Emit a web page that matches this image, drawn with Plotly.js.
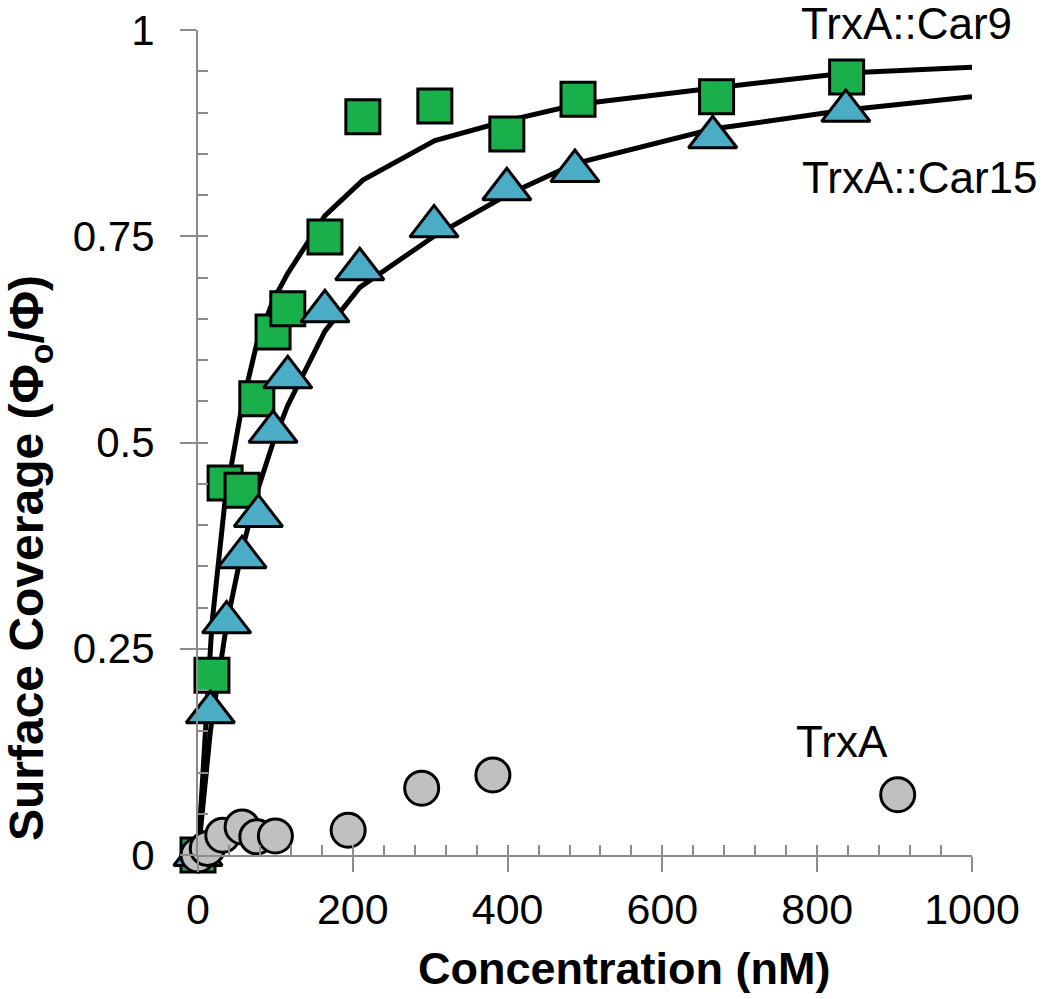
<!DOCTYPE html>
<html>
<head>
<meta charset="utf-8">
<script src="https://cdn.plot.ly/plotly-3.0.1.min.js"></script>
<style>html,body{margin:0;padding:0;background:#fff;}#chart{width:1050px;height:999px;}</style>
</head>
<body>
<div id="chart"></div>
<script>
// Measured data (concentration nM, surface coverage)
const car9X = [0, 18, 35, 57, 76, 97, 116, 164, 213, 306, 399, 491, 670, 838];
const car9Y = [0, 0.218, 0.451, 0.442, 0.553, 0.634, 0.662, 0.749, 0.895, 0.908, 0.874, 0.916, 0.919, 0.943];
const car15X = [0, 16, 37, 57, 78, 97, 116, 164, 209, 305, 399, 487, 665, 837];
const car15Y = [0, 0.173, 0.282, 0.361, 0.411, 0.513, 0.579, 0.659, 0.71, 0.762, 0.807, 0.829, 0.87, 0.902];
const trxX = [0, 12, 32, 57, 76, 100, 194, 289, 381, 904];
const trxY = [0, 0.008, 0.024, 0.034, 0.022, 0.023, 0.030, 0.081, 0.097, 0.073];
// Fit curves
const fit9X = [0, 18, 35, 57, 76, 97, 116, 164, 213, 306, 399, 491, 670, 838, 1000];
const fit9Y = [0, 0.28, 0.43, 0.545, 0.62, 0.672, 0.705, 0.775, 0.818, 0.866, 0.89, 0.91, 0.93, 0.948, 0.955];
const fit15X = [0, 16, 37, 57, 78, 97, 116, 164, 209, 305, 399, 487, 665, 837, 1000];
const fit15Y = [0, 0.15, 0.28, 0.37, 0.445, 0.50, 0.545, 0.635, 0.688, 0.75, 0.80, 0.838, 0.88, 0.903, 0.919];
// Axis ticks
const xTickVals = [0, 200, 400, 600, 800, 1000];
const xTickText = ['0', '200', '400', '600', '800', '1000'];
const yTickVals = [0, 0.25, 0.5, 0.75, 1];
const yTickText = ['0', '0.25', '0.5', '0.75', '1'];
// Labels (positions in paper fractions)
const seriesLabels = ['TrxA::Car9', 'TrxA::Car15', 'TrxA'];
const labelPos = {x: [0.915, 0.933, 0.832], y: [1.008, 0.821, 0.138]};

const FONT = 'Liberation Sans, Arial, sans-serif';
const AX = '#8c8c8c';

const traces = [
  {x: fit9X, y: fit9Y, mode: 'lines', line: {color: '#000', width: 5}, cliponaxis: false, hoverinfo: 'skip'},
  {x: fit15X, y: fit15Y, mode: 'lines', line: {color: '#000', width: 5}, cliponaxis: false, hoverinfo: 'skip'},
  {x: car9X, y: car9Y, mode: 'markers', cliponaxis: false,
   marker: {symbol: 'square', size: 34, color: '#19B04B', line: {color: '#000', width: 3}}},
  {x: car15X, y: car15Y, mode: 'markers', cliponaxis: false,
   marker: {symbol: 'triangle-up', size: 42, color: '#4BACC6', line: {color: '#000', width: 3}}},
  {x: trxX, y: trxY, mode: 'markers', cliponaxis: false,
   marker: {symbol: 'circle', size: 34, color: '#C0C0C0', line: {color: '#000', width: 3}}},
  {x: [null], y: [null], xaxis: 'x2', yaxis: 'y2', mode: 'markers', hoverinfo: 'skip'}
];

const annotations = seriesLabels.map((t, i) => ({
  text: t, x: labelPos.x[i], y: labelPos.y[i], xref: 'paper', yref: 'paper',
  xanchor: 'center', yanchor: 'middle',
  showarrow: false, font: {family: FONT, size: 44, color: '#000'}
}));
annotations.push({
  text: '<b>Concentration (nM)</b>', xref: 'paper', yref: 'paper',
  x: 0.55, y: -0.138, xanchor: 'center', yanchor: 'middle',
  showarrow: false, font: {family: FONT, size: 45, color: '#000'}
});
annotations.push({
  text: '<b>Surface Coverage (Φ<sub>o</sub>/Φ)</b>', xref: 'paper', yref: 'paper',
  x: -0.217, y: 0.36, xanchor: 'center', yanchor: 'middle', textangle: -90,
  showarrow: false, font: {family: FONT, size: 48, color: '#000'}
});

const layout = {
  width: 1050, height: 999,
  margin: {l: 198, r: 78, t: 30, b: 144},
  paper_bgcolor: '#fff', plot_bgcolor: '#fff',
  showlegend: false,
  font: {family: FONT, size: 43, color: '#000'},
  xaxis: {
    range: [0, 1000], tickvals: xTickVals, ticktext: xTickText,
    ticks: 'outside', ticklen: 15, tickwidth: 2, tickcolor: AX,
    showline: true, linecolor: AX, linewidth: 2, showgrid: false, zeroline: false,
    tickfont: {family: FONT, size: 43, color: '#000'}, ticklabelstandoff: 0
  },
  yaxis: {
    range: [0, 1], tickvals: yTickVals, ticktext: yTickText,
    ticks: 'outside', ticklen: 16, tickwidth: 2, tickcolor: AX,
    showline: true, linecolor: AX, linewidth: 2, showgrid: false, zeroline: false,
    tickfont: {family: FONT, size: 42, color: '#000'}, ticklabelstandoff: 17
  },
  xaxis2: {
    overlaying: 'x', range: [0, 1000], dtick: 40, tick0: 0, ticks: 'inside', ticklen: 10, tickwidth: 2,
    tickcolor: AX, showticklabels: false, showline: false, showgrid: false, zeroline: false, side: 'bottom'
  },
  yaxis2: {
    overlaying: 'y', range: [0, 1], dtick: 0.05, tick0: 0, ticks: 'inside', ticklen: 10, tickwidth: 2,
    tickcolor: AX, showticklabels: false, showline: false, showgrid: false, zeroline: false, side: 'left'
  },
  annotations: annotations
};

Plotly.newPlot('chart', traces, layout, {displayModeBar: false, staticPlot: true});
</script>
</body>
</html>
